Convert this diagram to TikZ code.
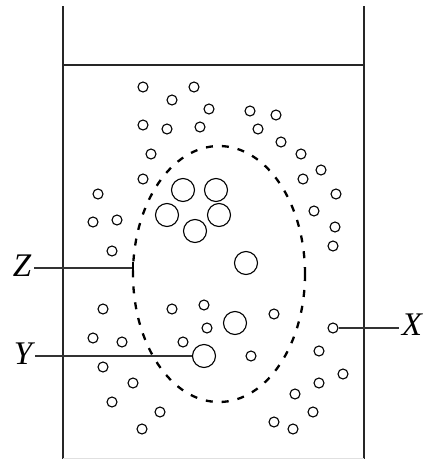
\documentclass[tikz,border=0pt]{standalone}
\usepackage{fontspec}
\setmainfont{Liberation Serif}
\begin{document}
\begin{tikzpicture}[x=1pt,y=-1pt,
  wall/.style={line width=1.3pt,black!85},
  sm/.style={draw,line width=1.1pt,circle,minimum size=10pt,inner sep=0pt},
  lg/.style={draw,line width=1.1pt,circle,minimum size=23pt,inner sep=0pt},
  lead/.style={line width=1.2pt,black!80},
  lab/.style={font=\fontsize{33}{33}\selectfont\itshape,inner sep=0pt}]
\useasboundingbox (0,0) rectangle (425,459);
% container
\coordinate (tl) at (63,6);
\coordinate (bl) at (63,459);
\coordinate (tr) at (364,6);
\coordinate (br) at (364,459);
\coordinate (sl) at (63,65);
\coordinate (sr) at (364,65);
\draw[wall] (tl) -- (bl);
\draw[wall] (tr) -- (br);
\draw[wall] (sl) -- (sr);
\draw[line width=0.8pt,black!12] (63,458) -- (364,458);
% dashed region
\draw[line width=2.3pt,dash pattern=on 7pt off 9pt] (219,274) ellipse [x radius=86, y radius=128];
% small particles
\foreach \x/\y [count=\i] in {143/87,194/87,172/100,209/109,250/111,276/115,143/125,167/129,200/127,258/129,281/142,151/154,301/154,
 321/170,143/179,303/179,98/194,336/194,93/222,117/220,314/211,335/227,333/246,112/251,
 103/309,172/309,204/305,274/314,207/328,93/338,122/342,183/342,251/356,319/351,103/367,343/374,133/383,319/383,295/394,112/402,160/412,313/412,142/429,274/422,293/429}
  \node[sm] (s\i) at (\x,\y) {};
\node[sm] (px) at (333,328) {};
% large particles
\foreach \x/\y [count=\i] in {183/190,216/190,167/215,219/215,195/231,246/263,235/323}
  \node[lg] (b\i) at (\x,\y) {};
\node[lg] (py) at (204,356) {};
% labels
\node[lab] (X) at (412,325) {X};
\node[lab] (Y) at (23,354) {Y};
\node[lab] (Z) at (22,266) {Z};
\coordinate (zt) at (133,268);
\draw[lead] ([xshift=-3pt]X.west |- px.east) -- (px.east);
\draw[lead] ([xshift=3pt]Y.east |- py.west) -- (py.west);
\draw[lead] ([xshift=3pt]Z.east |- zt) -- (zt);
\draw[line width=1.6pt] (133,262) -- (133,275);
\end{tikzpicture}
\end{document}
